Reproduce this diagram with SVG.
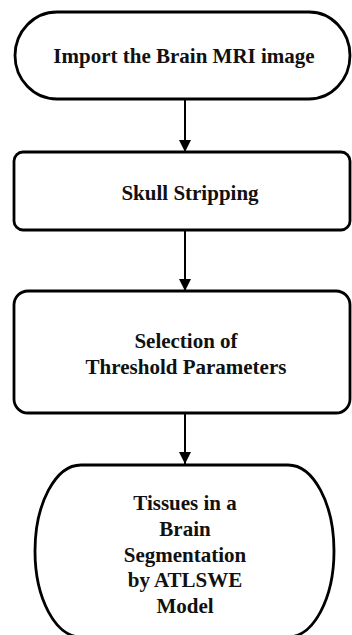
<svg xmlns="http://www.w3.org/2000/svg" width="352" height="635" viewBox="0 0 352 635">
<style>
.n{fill:#fff;stroke:#000;stroke-width:2.8}
.t{font-family:"Liberation Serif","Times New Roman",serif;font-weight:bold;font-size:21px;fill:#111;text-anchor:middle}
.c{stroke:#000;stroke-width:2;fill:none}
</style>
<defs>
<marker id="ah" markerWidth="12" markerHeight="12" refX="12" refY="6" orient="auto" markerUnits="userSpaceOnUse">
<path d="M0,0 L12,6 L0,12 Z" fill="#000"/>
</marker>
</defs>
<rect width="352" height="635" fill="#fff"/>
<g id="connectors">
<line class="c" x1="185" y1="99" x2="185" y2="152" marker-end="url(#ah)"/>
<line class="c" x1="185" y1="230" x2="185" y2="291" marker-end="url(#ah)"/>
<line class="c" x1="185" y1="413" x2="185" y2="464" marker-end="url(#ah)"/>
</g>
<g id="node1">
<path class="n" d="M57,12 H309 A41,43.5 0 0 1 309,99 H57 A42,43.5 0 0 1 57,12 Z"/>
<text class="t" x="184" y="63">Import the Brain MRI image</text>
</g>
<g id="node2">
<rect class="n" x="14" y="152" width="336" height="78" rx="9"/>
<text class="t" x="190" y="200">Skull Stripping</text>
</g>
<g id="node3">
<rect class="n" x="14" y="291" width="336" height="122" rx="14"/>
<text class="t" x="186" y="348">Selection of</text>
<text class="t" x="186" y="374">Threshold  Parameters</text>
</g>
<g id="node4">
<path class="n" d="M81,465 H288 A46,86 0 0 1 288,637 H81 A46,86 0 0 1 81,465 Z"/>
<text class="t" x="185" y="510">Tissues  in a</text>
<text class="t" x="185" y="536">Brain</text>
<text class="t" x="185" y="562">Segmentation</text>
<text class="t" x="185" y="587">by ATLSWE</text>
<text class="t" x="185" y="613">Model</text>
</g>
</svg>
